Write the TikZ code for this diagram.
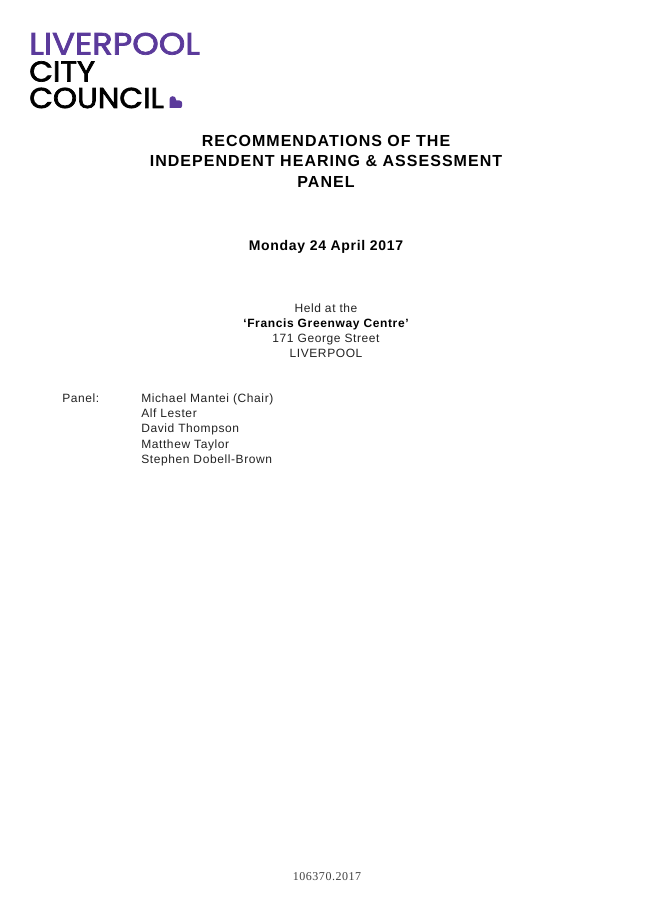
\documentclass[tikz,border=0pt]{standalone}
\usepackage{fontspec}
\setmainfont{Liberation Sans}
\newfontfamily\logofont[FakeBold=2.4, FakeStretch=1.07]{Poppins}
\newfontfamily\logowide[FakeBold=2.4, FakeStretch=1.1]{Poppins}
\newfontfamily\reffont{Liberation Serif}
\definecolor{logopurple}{HTML}{5B3A9B}
\definecolor{bodygrey}{HTML}{222222}
\tikzset{
    logotext/.style={anchor=base west, inner sep=0pt, font=\logofont\fontsize{21.5}{21.5}\selectfont},
    titletext/.style={anchor=base, inner sep=0pt, font=\bfseries\fontsize{12}{12}\selectfont\addfontfeature{LetterSpace=6.4}, text=black},
    bodytext/.style={anchor=base, inner sep=0pt, font=\fontsize{9}{9}\selectfont\addfontfeature{LetterSpace=5}, text=bodygrey},
    listtext/.style={bodytext, anchor=base west}
}
\begin{document}
\begin{tikzpicture}[x=0.75pt, y=-0.75pt]
    \useasboundingbox (0,0) rectangle (653,923);

    \node [logotext, text=logopurple, font=\logowide\fontsize{23}{23}\selectfont] (logoa) at (29, 54.5) {LIVERPOOL};
    \node [logotext, text=black] (logob) at (29, 81.5) {CITY};
    \node [logotext, text=black] (logoc) at (29, 108) {COUNCIL};
    \fill [logopurple] (169.5,108) -- (169.5,99) .. controls (169.5,95.5) and (176,95) .. (176,99.5)
        -- (176,100.5) -- (179.5,100.5) .. controls (181.5,100.5) and (182,102) .. (182,103)
        -- (182,106) .. controls (182,107.5) and (181,108) .. (180,108) -- cycle;

    \node [titletext] (titlea) at (326, 147) {RECOMMENDATIONS OF THE};
    \node [titletext] (titleb) at (326, 167) {INDEPENDENT HEARING \& ASSESSMENT};
    \node [titletext] (titlec) at (326, 187.5) {PANEL};
    \node [titletext, font=\bfseries\fontsize{10.5}{10.5}\selectfont\addfontfeature{LetterSpace=5}] (date) at (326, 251) {Monday 24 April 2017};

    \node [bodytext] (helda) at (326, 312) {Held at the};
    \node [bodytext, font=\bfseries\fontsize{9}{9}\selectfont\addfontfeature{LetterSpace=5.3}, text=black] (heldb) at (326, 327) {‘Francis Greenway Centre’};
    \node [bodytext] (heldc) at (326, 342) {171 George Street};
    \node [bodytext] (heldd) at (326, 357) {LIVERPOOL};

    \node [listtext] (panel) at (62, 402) {Panel:};
    \node [listtext] (chair) at (141, 402) {Michael Mantei (Chair)};
    \node [listtext] (lester) at (141, 417) {Alf Lester};
    \node [listtext] (thompson) at (141, 432) {David Thompson};
    \node [listtext] (taylor) at (141, 448) {Matthew Taylor};
    \node [listtext] (brown) at (141, 463) {Stephen Dobell-Brown};

    \node [bodytext, font=\reffont\fontsize{9}{9}\selectfont\addfontfeature{LetterSpace=4.5}, text=black!75] (refno) at (327, 880) {106370.2017};
\end{tikzpicture}
\end{document}
